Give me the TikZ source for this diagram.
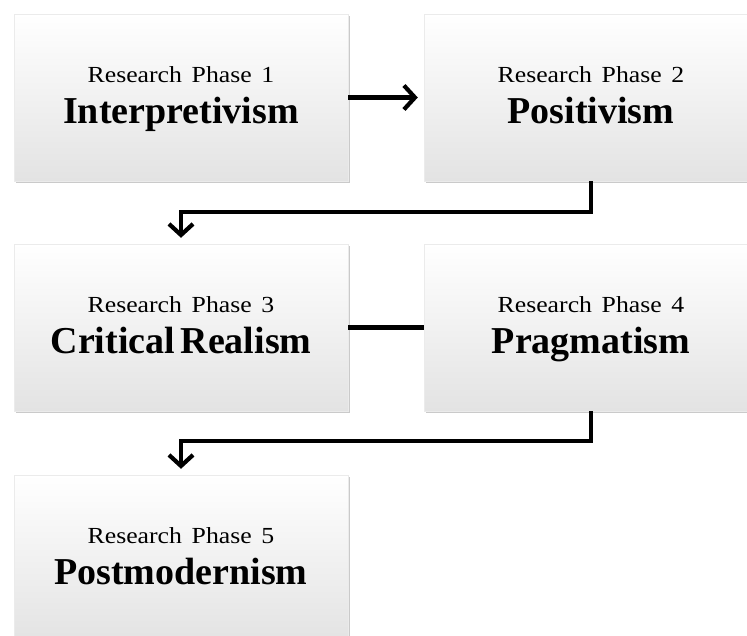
\documentclass[tikz,border=0pt]{standalone}
\usepackage{fontspec}
\setmainfont{Liberation Serif}
\newfontfamily\regfont[FakeStretch=1.12,WordSpace=1.5]{Liberation Serif}
\usetikzlibrary{arrows.meta,shadows}
\tikzset{
  phasebox/.style={rectangle, minimum width=334pt, minimum height=167pt, inner sep=0pt,
    draw=black!8, line width=0.4pt,
    top color=white, middle color=white, bottom color=black!11,
    drop shadow={shadow xshift=1.5pt, shadow yshift=-2pt, opacity=0.35, fill=black!60}},
  phasetop/.style={anchor=base, inner sep=0pt, font=\regfont\fontsize{23}{27}\selectfont},
  phasename/.style={anchor=base, inner sep=0pt, font=\bfseries\fontsize{38}{44}\selectfont},
  conn/.style={line width=4.2pt, black},
  arr/.style={conn, -{Straight Barb[length=11pt,width=24pt]}, shorten >=6pt}
}
\begin{document}
\begin{tikzpicture}[x=1pt,y=1pt]
\useasboundingbox (0,0) rectangle (747,635);
\clip (0,0) rectangle (747,635);
% boxes
\node[phasebox] (b1) at (181,537.5) {};
\node[phasebox] (b2) at (591,537.5) {};
\node[phasebox] (b3) at (181,307.5) {};
\node[phasebox] (b4) at (591,307.5) {};
\node[phasebox] (b5) at (181,76.5) {};
% texts
\node[phasetop]  (t1) at ([yshift=-69pt]b1.north) {Research Phase 1};
\node[phasename] (n1) at ([yshift=-110pt]b1.north) {Interpretivism};
\node[phasetop]  (t2) at ([yshift=-69pt]b2.north) {Research Phase 2};
\node[phasename] (n2) at ([yshift=-110pt]b2.north) {Positivism};
\node[phasetop]  (t3) at ([yshift=-69pt]b3.north) {Research Phase 3};
\node[phasename] (n3) at ([yshift=-110pt]b3.north) {Critical\hspace{-4pt} Realism};
\node[phasetop]  (t4) at ([yshift=-69pt]b4.north) {Research Phase 4};
\node[phasename] (n4) at ([yshift=-110pt]b4.north) {Pragmatism};
\node[phasetop]  (t5) at ([yshift=-69pt]b5.north) {Research Phase 5};
\node[phasename] (n5) at ([yshift=-110pt]b5.north) {Postmodernism};
% connectors
\draw[arr] (b1.east) -- (b2.west);
\draw[arr] (b2.south) -- ++(0,-31) -| (b3.north);
\draw[conn] (b3.east) -- (b4.west);
\draw[arr] (b4.south) -- ++(0,-30) -| (b5.north);
\end{tikzpicture}
\end{document}
